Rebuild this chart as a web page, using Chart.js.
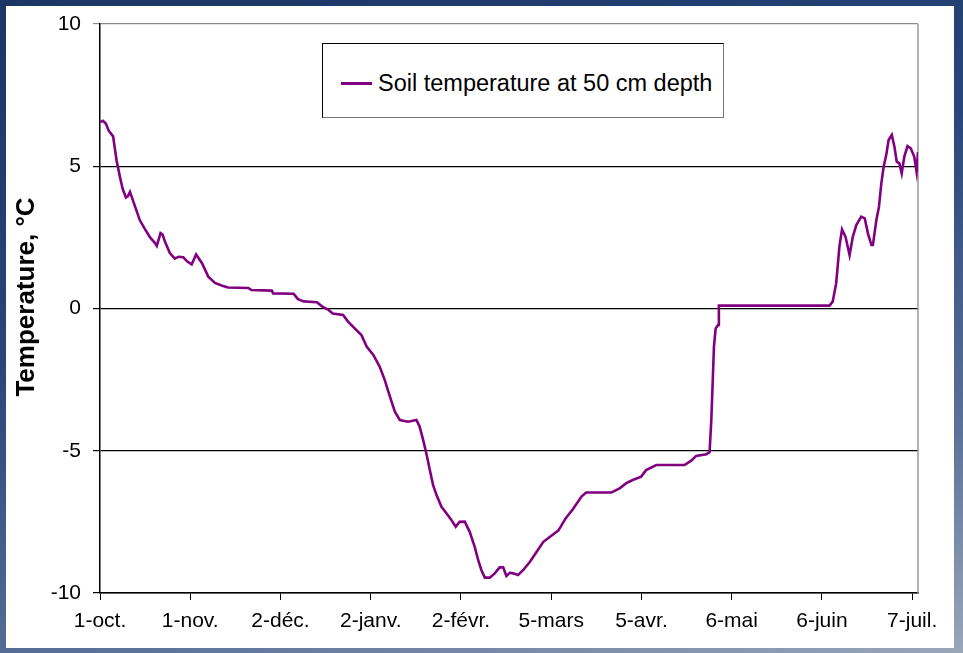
<!DOCTYPE html>
<html>
<head>
<meta charset="utf-8">
<script src="https://cdn.jsdelivr.net/npm/chart.js@4.4.1/dist/chart.umd.min.js"></script>
<style>
html,body{margin:0;padding:0}
body{width:963px;height:653px;overflow:hidden;position:relative;
  background:linear-gradient(165deg,#1c3564 0%,#27467a 40%,#5a7198 75%,#9aa6ba 100%);
  font-family:"Liberation Sans",Arial,sans-serif}
#panel{position:absolute;left:6px;top:6px;width:948px;height:642px;background:#fff}
#chart{position:absolute;left:0;top:0}
#ytitle{position:absolute;left:-111px;top:276px;width:260px;height:30px;line-height:30px;
  text-align:center;font-weight:bold;font-size:26px;color:#000;transform:rotate(-90deg);white-space:nowrap}
#legend{position:absolute;left:316px;top:37px;width:402px;height:75px;box-sizing:border-box;
  border:1px solid #000;border-right-color:#777;border-bottom-color:#777;background:#fff}
#legend .swatch{position:absolute;left:18px;top:38px;width:31px;height:3px}
#legend .txt{position:absolute;left:55px;top:24px;font-size:23.5px;line-height:30px;color:#000;white-space:nowrap}
</style>
</head>
<body>
<div id="panel">
  <canvas id="chart" width="948" height="642"></canvas>
  <div id="ytitle">Temperature, °C</div>
  <div id="legend"><div class="swatch"></div><div class="txt"></div></div>
</div>
<script>
// ---- data (x = days since 1 October) ----
const seriesLabel = "Soil temperature at 50 cm depth";
const seriesColor = "#800080";
const tickDays   = [0, 31, 62, 93, 124, 155, 186, 217, 248, 279];
const tickLabels = ["1-oct.", "1-nov.", "2-déc.", "2-janv.", "2-févr.", "5-mars", "5-avr.", "6-mai", "6-juin", "7-juil."];
const yTicks = [-10, -5, 0, 5, 10];

const days = [
  0, 1, 2, 3, 4.5, 5.7, 6.9, 7.8, 8.9, 9.6, 10.3, 12, 13.7, 15.4, 17.2, 18.9, 19.5, 20.8, 21.5, 22.3,
  24, 25.7, 27, 28.6, 30, 31.5, 33, 35, 37.2, 39.5, 42, 44, 51, 52, 59, 59.5, 66.5, 68, 70, 74.5, 76.5, 78.5, 80,
  83.5, 85.2, 87.5, 89.8, 91.6, 93.9, 96.1, 97.8, 99.6, 101.3, 103, 105.8, 108.7, 109.8, 111, 112.1, 113.3, 114.4, 115.6, 117.3,
  119, 120.7, 122.2, 123.5, 125.3, 127, 128.7, 129.9, 131, 132.2, 133.9, 135.6, 137.3, 138.5, 139.6, 140.8, 141.9, 143.6, 145.4, 147.7,
  150, 152.3, 154.6, 157.5, 160, 162.5, 165.4, 167, 175.6, 178.5, 180.8, 183, 185.9, 187.6, 191.1, 200.8, 203.1, 204.8, 208.3, 209.4,
  210, 210.5, 210.9, 211.5, 212.3, 212.6, 250.6, 251.7, 252.9, 253.4, 254, 254.9, 256.1, 257.5, 258.6, 259.8, 261.5, 262.7, 263.8, 265,
  265.5, 266.7, 267.6, 268.4, 269.2, 270.1, 270.9, 272, 272.9, 273.7, 274.6, 275.4, 276.3, 277.4, 278.5, 279.7, 280.5, 281
];
const temps = [
  6.55, 6.6, 6.5, 6.25, 6.05, 5.2, 4.6, 4.2, 3.9, 3.95, 4.1, 3.6, 3.1, 2.8, 2.5, 2.3, 2.2, 2.65, 2.6, 2.35,
  1.95, 1.75, 1.82, 1.8, 1.65, 1.55, 1.9, 1.6, 1.12, 0.9, 0.8, 0.74, 0.72, 0.65, 0.63, 0.53, 0.52, 0.33, 0.25, 0.22, 0.06, -0.05, -0.18,
  -0.23, -0.46, -0.7, -0.93, -1.34, -1.63, -2.05, -2.51, -3.1, -3.63, -3.92, -3.98, -3.92, -4.15, -4.62, -5.09, -5.68, -6.2, -6.56, -6.97,
  -7.2, -7.43, -7.67, -7.5, -7.49, -7.85, -8.37, -8.84, -9.19, -9.46, -9.46, -9.31, -9.1, -9.1, -9.4, -9.29, -9.31, -9.37, -9.19, -8.9,
  -8.55, -8.2, -8.02, -7.8, -7.37, -7.05, -6.61, -6.47, -6.47, -6.32, -6.14, -6.03, -5.91, -5.68, -5.5, -5.5, -5.35, -5.18, -5.12, -5.05,
  -3.92, -2.51, -1.34, -0.7, -0.58, 0.1, 0.1, 0.24, 0.89, 1.47, 2.17, 2.78, 2.52, 1.88, 2.52, 2.93, 3.23, 3.17, 2.64, 2.23,
  2.23, 3.11, 3.58, 4.4, 4.98, 5.4, 5.92, 6.1, 5.69, 5.16, 5.1, 4.75, 5.34, 5.71, 5.63, 5.34, 4.81, 5.5
];

// ---- legend (HTML, built from the dataset) ----
document.querySelector('#legend .swatch').style.background = seriesColor;
document.querySelector('#legend .txt').textContent = seriesLabel;

const FONT = '"Liberation Sans", Arial, sans-serif';

const frameRight = {
  id: 'frameRight',
  beforeDatasetsDraw(chart) {
    const a = chart.chartArea, c = chart.ctx;
    c.save();
    c.strokeStyle = '#999';
    c.lineWidth = 1.5;
    c.beginPath();
    c.moveTo(a.right, a.top);
    c.lineTo(a.right, a.bottom);
    c.stroke();
    c.restore();
  }
};

new Chart(document.getElementById('chart'), {
  type: 'line',
  data: {
    datasets: [{
      label: seriesLabel,
      data: days.map((d, i) => ({ x: d, y: temps[i] })),
      borderColor: seriesColor,
      borderWidth: 2.6,
      pointRadius: 0,
      tension: 0,
      fill: false
    }]
  },
  options: {
    responsive: false,
    animation: false,
    layout: { padding: { top: 18, right: 36, left: 0, bottom: 0 } },
    plugins: { legend: { display: false }, tooltip: { enabled: false } },
    scales: {
      x: {
        type: 'linear',
        min: 0, max: 281,
        afterBuildTicks: s => { s.ticks = tickDays.map(v => ({ value: v })); },
        afterFit: s => { s.height = 55; s.paddingLeft = 0; s.paddingRight = 0; },
        ticks: {
          autoSkip: false, maxRotation: 0, minRotation: 0,
          callback: (v, i) => tickLabels[i],
          font: { size: 21, family: FONT },
          color: '#000',
          padding: 9
        },
        grid: { drawOnChartArea: false, drawTicks: true, tickLength: 7, color: '#000', lineWidth: 1 },
        border: { color: '#000', width: 1.5 }
      },
      y: {
        min: -10, max: 10,
        afterBuildTicks: s => { s.ticks = yTicks.map(v => ({ value: v })); },
        afterFit: s => { s.width = 94; s.paddingTop = 0; s.paddingBottom = 0; },
        ticks: {
          font: { size: 21, family: FONT },
          color: '#000',
          padding: 12
        },
        grid: {
          color: c => (c.tick && c.tick.value === 10) ? '#8a8a8a' : '#000',
          lineWidth: 1.2,
          tickLength: 7
        },
        border: { color: '#000', width: 1.5 }
      }
    }
  },
  plugins: [frameRight]
});
</script>
</body>
</html>
